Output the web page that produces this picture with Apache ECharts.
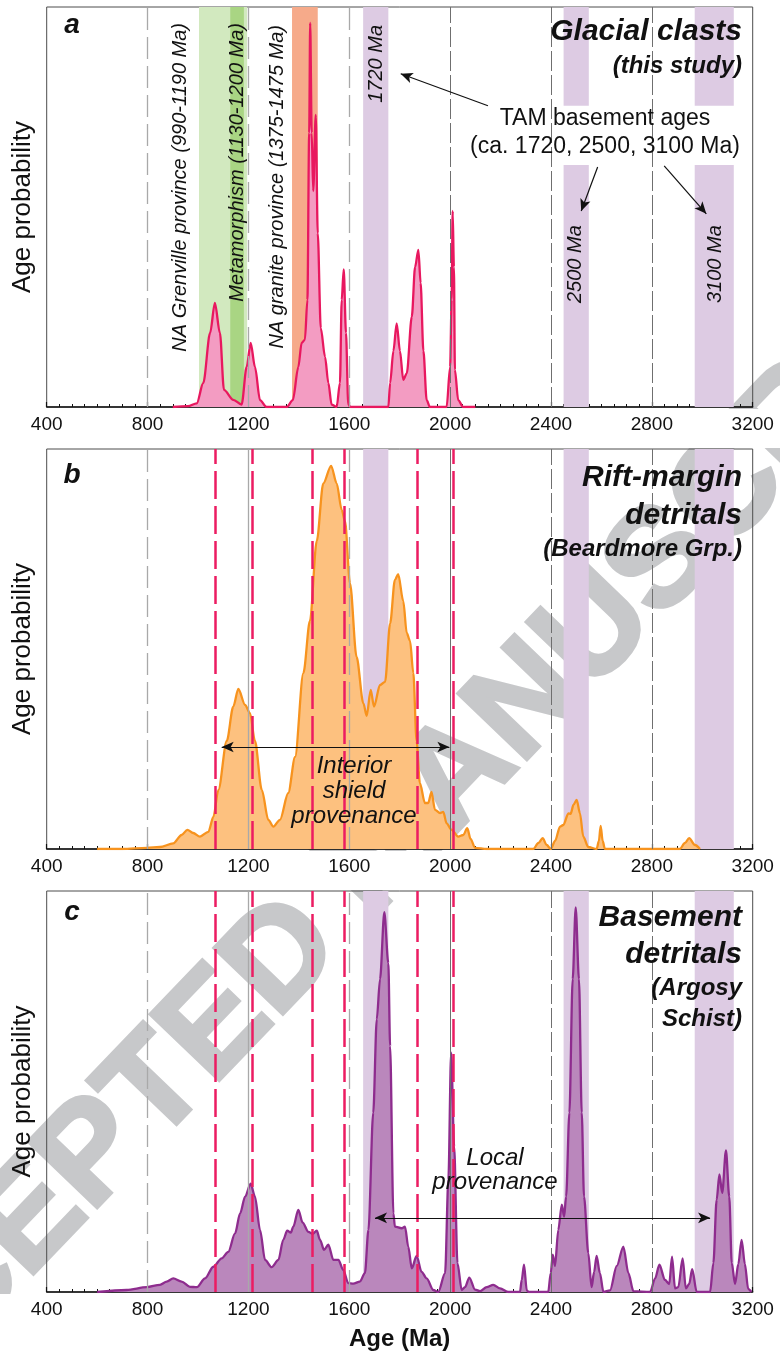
<!DOCTYPE html>
<html>
<head>
<meta charset="utf-8">
<title>Age probability spectra</title>
<script src="https://cdn.jsdelivr.net/npm/echarts@6/dist/echarts.min.js"></script>
<style>
  html, body { margin: 0; padding: 0; background: #fff; }
  #chart { width: 780px; height: 1358px; }
</style>
</head>
<body>
<div id="chart"></div>
<script>
// x axis (Ma)
const AGE_MIN = 400
const AGE_MAX = 3200
const AGE_STEP = 400
const gridAges = [800, 1200, 1600, 2000, 2400, 2800]

// peaks of the glacial clast spectrum, repeated as dashed lines in b and c
const glacialPeaks = [1070, 1215, 1452, 1580, 1869, 2013]

// shaded age bands [from, to] (Ma)
const tamBands = [[1655, 1755], [2450, 2550], [2970, 3125]]
const grenvilleBand = [1004, 1195]
const metamorphismBand = [1128, 1182]
const graniteBand = [1373, 1475]

// arrows [[age, prob], [age, prob]]
const tamArrows = [
  [[2150, 75.3], [1804, 83.3]],
  [[2585, 60], [2520, 49]],
  [[2849, 60.3], [3016, 48.3]]
]
const interiorArrow = [[1094, 25.5], [1997, 25.5]]
const localArrow = [[1702, 18.5], [3031, 18.5]]

// age probability curves, [age Ma, relative probability 0-100]
const glacialClasts = [
  [900, 0], [960, 0.2], [995, 0.9], [1021, 6], [1048, 18.5], [1067, 26], [1087, 18.5],
  [1103, 4.3], [1140, 1.8], [1173, 0.6], [1193, 10], [1209, 16], [1226, 10], [1246, 1.7],
  [1272, 0], [1352, 0], [1376, 1.7], [1398, 10], [1411, 16], [1424, 16.8], [1434, 26.8],
  [1441, 68.5], [1445, 96], [1451, 68.5], [1457, 54], [1467, 73], [1475, 43.4],
  [1487, 19.7], [1504, 12.5], [1517, 6], [1530, 0.6], [1550, 0], [1563, 6], [1570, 26.8],
  [1578, 34.4], [1587, 18.5], [1596, 0.6], [1605, 0], [1755, 0], [1762, 6], [1775, 14],
  [1788, 20.9], [1801, 14], [1814, 6.8], [1828, 8.4], [1848, 22.6], [1861, 35],
  [1874, 39.3], [1883, 31], [1894, 14], [1907, 1.7], [1920, 0], [1986, 0], [2000, 10],
  [2006, 26.8], [2010, 49], [2015, 35], [2019, 9.3], [2032, 1.7], [2052, 0], [2100, 0]
]

const riftMargin = [
  [600, 0], [700, 0], [797, 0.3], [849, 0.5], [902, 1.4], [935, 3.5], [958, 4.8],
  [981, 4], [1008, 3.1], [1041, 4.3], [1061, 8], [1081, 14.8], [1114, 27], [1140, 35.6],
  [1160, 40], [1187, 36], [1206, 34], [1226, 27], [1253, 14.8], [1279, 7.3], [1299, 5.6],
  [1325, 7.3], [1358, 14], [1385, 23], [1418, 44], [1444, 57], [1471, 77], [1497, 91.4],
  [1528, 95.8], [1550, 91.4], [1570, 84.8], [1583, 82], [1603, 66.4], [1629, 48],
  [1656, 36.4], [1669, 33.3], [1685, 39.8], [1698, 35.6], [1722, 41], [1742, 41.8],
  [1762, 56.4], [1781, 67.3], [1794, 68.7], [1814, 62], [1828, 54], [1841, 52],
  [1854, 44], [1867, 27], [1880, 16.5], [1900, 11.5], [1913, 11.5], [1926, 14.3],
  [1940, 9.8], [1960, 9], [1973, 9.3], [1986, 6.4], [2006, 4.8], [2032, 3.1], [2052, 3.5],
  [2068, 5.2], [2081, 2.5], [2099, 0.3], [2145, 0], [2330, 0], [2350, 1.5], [2367, 2.7],
  [2383, 1], [2399, 0], [2416, 2], [2436, 5.6], [2449, 6], [2469, 8.9], [2478, 8.8],
  [2489, 11], [2502, 12.3], [2515, 8.9], [2528, 3.1], [2548, 0.5], [2581, 0], [2590, 2],
  [2597, 5.8], [2605, 2], [2614, 0], [2911, 0], [2931, 1.5], [2948, 2.7], [2971, 1],
  [2991, 0]
]

const basement = [
  [600, 0], [717, 0.5], [797, 1.2], [849, 1.8], [876, 2.6], [902, 3.4], [935, 2.6],
  [968, 1.3], [995, 1.2], [1028, 3.4], [1061, 6.3], [1094, 8.4], [1120, 10], [1147, 14.6],
  [1167, 19.6], [1187, 23.8], [1209, 27], [1226, 23.8], [1246, 15.5], [1266, 8],
  [1292, 6.2], [1319, 8], [1338, 13], [1354, 15.3], [1368, 14.8], [1378, 16.3],
  [1398, 20.5], [1415, 17.3], [1438, 15], [1455, 14.5], [1471, 15.3], [1484, 13],
  [1500, 10.5], [1517, 11.8], [1537, 8], [1557, 8], [1576, 5.5], [1596, 2.2], [1616, 2.1],
  [1642, 2.6], [1662, 4.7], [1676, 15.5], [1695, 44.7], [1709, 68], [1722, 78],
  [1739, 94.7], [1755, 82], [1762, 61.3], [1775, 19.6], [1781, 16.3], [1808, 15.9],
  [1821, 16.3], [1834, 11.3], [1848, 5.9], [1867, 9], [1887, 5], [1907, 3.4], [1933, 0.5],
  [1953, 0], [1980, 4.7], [1993, 28], [2004, 59.7], [2016, 36.3], [2029, 7.2], [2046, 0.5],
  [2059, 1.2], [2076, 3.6], [2099, 0.6], [2119, 0.2], [2145, 1.2], [2171, 1.8], [2198, 0.9],
  [2231, 0], [2277, 0], [2284, 3], [2293, 6.8], [2304, 0.4], [2312, 0], [2389, 0],
  [2399, 4.7], [2407, 9.3], [2416, 6.5], [2429, 15.5], [2443, 21.8], [2452, 18.8],
  [2460, 23.8], [2473, 44.7], [2486, 78], [2498, 95.9], [2511, 78], [2522, 44.7],
  [2531, 23.8], [2548, 9.7], [2561, 1.2], [2571, 5], [2581, 9], [2594, 4.7], [2608, 0],
  [2634, 0.4], [2661, 6.5], [2687, 11.3], [2707, 4.7], [2727, 0.2], [2793, 0], [2813, 3.4],
  [2830, 6.8], [2852, 3], [2869, 2], [2880, 8.8], [2892, 0.9], [2905, 1.2], [2922, 8.4],
  [2935, 0.9], [2948, 2], [2960, 5.7], [2978, 0], [3031, 0], [3044, 7.2], [3057, 23],
  [3068, 29.3], [3079, 24.7], [3094, 35.3], [3107, 23.8], [3117, 7.2], [3130, 2],
  [3143, 7], [3156, 13], [3169, 7], [3182, 0.8], [3195, 0]
]

const FONT = '"Liberation Sans", Arial, sans-serif'
const PURPLE_BAND = '#ddcbe3'

const panels = [
  { top: 7, height: 400, data: glacialClasts, line: '#e8185f', fill: '#f39cc2' },
  { top: 449, height: 400, data: riftMargin, line: '#f7931e', fill: '#fdc17f' },
  { top: 891, height: 401, data: basement, line: '#8e2c8e', fill: '#ba87bc' }
]

function bandsFor (i) {
  const out = []
  tamBands.forEach((b, k) => {
    if (i === 0 && k > 0) {
      // broken around the TAM label
      out.push([{ xAxis: b[0], yAxis: 75.3, itemStyle: { color: PURPLE_BAND } }, { xAxis: b[1], yAxis: 100 }])
      out.push([{ xAxis: b[0], yAxis: 0, itemStyle: { color: PURPLE_BAND } }, { xAxis: b[1], yAxis: 60.5 }])
    } else {
      out.push([{ xAxis: b[0], itemStyle: { color: PURPLE_BAND } }, { xAxis: b[1] }])
    }
  })
  if (i === 0) {
    out.push([{ xAxis: grenvilleBand[0], itemStyle: { color: '#d2e9bf' } }, { xAxis: grenvilleBand[1] }])
    out.push([{ xAxis: metamorphismBand[0], itemStyle: { color: '#a9d583' } }, { xAxis: metamorphismBand[1] }])
    out.push([{ xAxis: graniteBand[0], itemStyle: { color: '#f6aa8a' } }, { xAxis: graniteBand[1] }])
  }
  return out
}

// grey age grid, drawn over the curves
function gridLinesFor (i) {
  return gridAges.map(age => {
    const solid = i > 0 && (age === 1200 || age === 2000)
    const light = age < 2000
    return {
      xAxis: age,
      lineStyle: {
        color: light ? '#a9a9a9' : '#6f6f6f',
        width: light ? 1.3 : 1,
        type: solid ? 'solid' : (light ? [22, 7] : [20, 4])
      }
    }
  })
}

// pink peak lines, hidden under the filled curves
function peakLinesFor (i) {
  if (i === 0) return []
  return glacialPeaks.map(age => ({
    xAxis: age, lineStyle: { color: '#ec1c62', width: 2.5, type: [28, 7] }
  }))
}

function arrowLine (a, twoHeads) {
  return [
    { coord: a[0], symbol: twoHeads ? 'arrow' : 'none' },
    { coord: a[1], symbol: 'arrow' }
  ]
}

function arrowsFor (i) {
  if (i === 0) return tamArrows.map(a => arrowLine(a, false))
  if (i === 1) return [arrowLine(interiorArrow, true)]
  return [arrowLine(localArrow, true)]
}

function markLineSeries (i, z, data) {
  return {
    type: 'line', xAxisIndex: i, yAxisIndex: i, data: [], z: z, silent: true,
    markLine: { silent: true, symbol: 'none', label: { show: false }, animation: false, data: data }
  }
}

const grids = []
const xAxes = []
const yAxes = []
const series = []

panels.forEach((p, i) => {
  grids.push({
    left: 46.7, width: 706, top: p.top, height: p.height,
    show: true, borderColor: '#4d4d4d', borderWidth: 1, backgroundColor: 'transparent'
  })
  xAxes.push({
    type: 'value', gridIndex: i, min: AGE_MIN, max: AGE_MAX, interval: AGE_STEP,
    axisLine: { show: true, lineStyle: { color: '#111', width: 1.5 } },
    axisTick: { show: true, inside: true, length: 5, lineStyle: { color: '#111', width: 1.2 } },
    minorTick: { show: true, splitNumber: 8, length: 3, lineStyle: { color: '#111', width: 1 } },
    axisLabel: { fontSize: 19, color: '#111', margin: 8, fontFamily: FONT, formatter: v => String(v) },
    splitLine: { show: false },
    name: i === 2 ? 'Age (Ma)' : '',
    nameLocation: 'middle',
    nameGap: 35,
    nameTextStyle: { fontSize: 24, fontWeight: 'bold', color: '#111', fontFamily: FONT }
  })
  yAxes.push({
    type: 'value', gridIndex: i, min: 0, max: 100,
    axisLine: { show: false }, axisTick: { show: false }, axisLabel: { show: false },
    splitLine: { show: false },
    name: 'Age probability', nameLocation: 'middle', nameGap: 11, nameRotate: 90,
    nameTextStyle: { fontSize: 26, color: '#111', fontFamily: FONT }
  })

  series.push({
    type: 'line', xAxisIndex: i, yAxisIndex: i, data: [], z: 1, silent: true,
    markArea: { silent: true, data: bandsFor(i) }
  })
  series.push(markLineSeries(i, 1.5, peakLinesFor(i)))
  series.push({
    type: 'line', xAxisIndex: i, yAxisIndex: i, data: p.data, z: 3,
    showSymbol: false, smooth: 0.3, smoothMonotone: 'x',
    lineStyle: { color: p.line, width: 2.3 },
    areaStyle: { color: p.fill, opacity: 1 }
  })
  series.push(markLineSeries(i, 3.5, gridLinesFor(i)))
  series.push({
    type: 'line', xAxisIndex: i, yAxisIndex: i, data: [], z: 4, silent: true,
    markLine: {
      silent: true, symbolSize: [8, 12], label: { show: false }, animation: false,
      lineStyle: { color: '#111', width: 1.2, type: 'solid' },
      data: arrowsFor(i)
    }
  })
})

function txt (x, y, text, size, opts) {
  const o = opts || {}
  return {
    type: 'text', x: x, y: y, rotation: o.rotation || 0, z: o.z || 10,
    style: {
      text: text,
      font: (o.style || 'normal') + ' ' + (o.weight || 'normal') + ' ' + size + 'px ' + FONT,
      fill: o.color || '#111',
      align: o.align || 'center',
      verticalAlign: 'middle'
    }
  }
}

const R = Math.PI / 2
const graphics = [
  // watermark, behind the plots
  {
    type: 'text', x: 387, y: 850, rotation: 0.806, z: -5,
    style: {
      text: 'ACCEPTED MANUSCRIPT', font: 'bold 138px ' + FONT, fill: '#c7c8ca',
      stroke: '#c7c8ca', lineWidth: 4, align: 'center', verticalAlign: 'middle'
    }
  },
  { type: 'rect', z: -4, shape: { x: 0, y: 409, width: 780, height: 39 }, style: { fill: '#fff' } },
  { type: 'rect', z: -4, shape: { x: 0, y: 851, width: 780, height: 39 }, style: { fill: '#fff' } },
  { type: 'rect', z: -4, shape: { x: 0, y: 1294, width: 780, height: 64 }, style: { fill: '#fff' } },

  // panel letters
  txt(72, 25, 'a', 28, { weight: 'bold', style: 'italic' }),
  txt(72, 475, 'b', 28, { weight: 'bold', style: 'italic' }),
  txt(72, 912, 'c', 28, { weight: 'bold', style: 'italic' }),

  // panel a
  txt(742, 32, 'Glacial clasts', 30, { weight: 'bold', style: 'italic', align: 'right' }),
  txt(742, 66, '(this study)', 24, { weight: 'bold', style: 'italic', align: 'right' }),
  txt(605, 119, 'TAM basement ages', 23),
  txt(605, 147, '(ca. 1720, 2500, 3100 Ma)', 23),
  txt(180, 23, 'NA Grenville province (990-1190 Ma)', 20, { style: 'italic', rotation: R, align: 'right' }),
  txt(237.5, 23, 'Metamorphism (1130-1200 Ma)', 20, { style: 'italic', rotation: R, align: 'right' }),
  txt(277, 25, 'NA granite province (1375-1475 Ma)', 20, { style: 'italic', rotation: R, align: 'right' }),
  txt(376, 25, '1720 Ma', 20, { style: 'italic', rotation: R, align: 'right' }),
  txt(575, 303, '2500 Ma', 20, { style: 'italic', rotation: R, align: 'left' }),
  txt(715, 303, '3100 Ma', 20, { style: 'italic', rotation: R, align: 'left' }),

  // panel b
  txt(742, 478, 'Rift-margin', 30, { weight: 'bold', style: 'italic', align: 'right' }),
  txt(742, 516, 'detritals', 30, { weight: 'bold', style: 'italic', align: 'right' }),
  txt(742, 549, '(Beardmore Grp.)', 24, { weight: 'bold', style: 'italic', align: 'right' }),
  txt(354, 766, 'Interior', 24, { style: 'italic' }),
  txt(354, 791, 'shield', 24, { style: 'italic' }),
  txt(354, 816, 'provenance', 24, { style: 'italic' }),

  // panel c
  txt(742, 918, 'Basement', 30, { weight: 'bold', style: 'italic', align: 'right' }),
  txt(742, 955, 'detritals', 30, { weight: 'bold', style: 'italic', align: 'right' }),
  txt(742, 988, '(Argosy', 24, { weight: 'bold', style: 'italic', align: 'right' }),
  txt(742, 1019, 'Schist)', 24, { weight: 'bold', style: 'italic', align: 'right' }),
  txt(495, 1158, 'Local', 24, { style: 'italic' }),
  txt(495, 1182, 'provenance', 24, { style: 'italic' })
]

const chart = echarts.init(document.getElementById('chart'), null, { renderer: 'canvas' })
chart.setOption({
  animation: false,
  backgroundColor: '#fff',
  textStyle: { fontFamily: FONT },
  grid: grids,
  xAxis: xAxes,
  yAxis: yAxes,
  series: series,
  graphic: graphics
})
</script>
</body>
</html>
